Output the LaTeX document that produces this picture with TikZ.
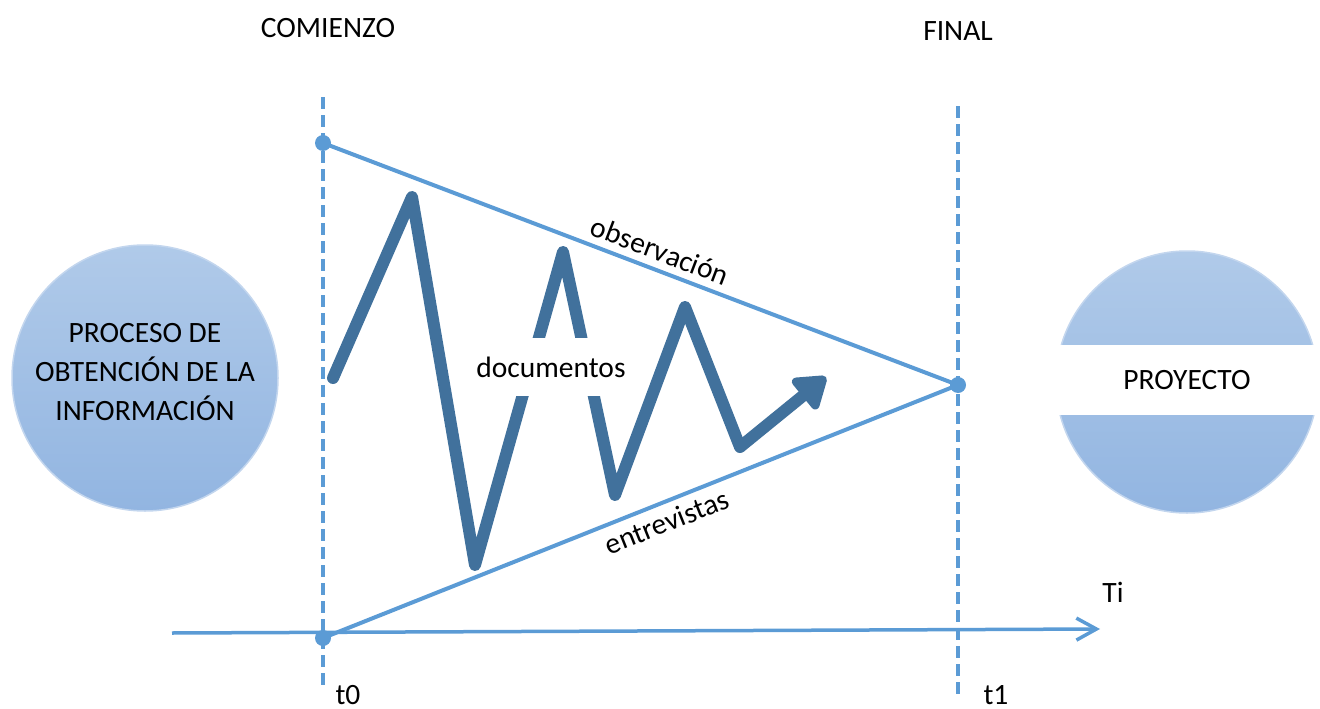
\documentclass[tikz,border=0pt]{standalone}
\usepackage{fontspec}
\setmainfont{Carlito}
\usetikzlibrary{arrows.meta}
\definecolor{lightln}{HTML}{5B9BD5}
\definecolor{darkln}{HTML}{41719C}
\definecolor{circtop}{HTML}{B0CAE9}
\definecolor{circbot}{HTML}{92B5E1}
\definecolor{circedge}{HTML}{C3D6EE}
\tikzset{
  guide/.style={lightln, line width=3.5pt, dash pattern=on 12pt off 6pt},
  thinln/.style={lightln, line width=4pt},
  zig/.style={darkln, line width=12pt, line join=round, line cap=round},
  bubble/.style={circle, draw=circedge, line width=1.5pt, top color=circtop, bottom color=circbot, inner sep=0pt},
  lbl/.style={font=\fontsize{29.5}{39}\selectfont, inner sep=0pt, text=black},
  dot/.style={circle, fill=lightln, minimum size=16pt, inner sep=0pt}
}
\begin{document}
\begin{tikzpicture}[x=1pt, y=-1pt]
\useasboundingbox (0,0) rectangle (1320,709);
% circles
\node[bubble, minimum size=266pt] (left) at (145,378) {};
\node[lbl, align=center] (lefttxt) at (145,372) {PROCESO DE\\OBTENCIÓN DE LA\\INFORMACIÓN};
\node[bubble, minimum size=262pt] (right) at (1187,382) {};
\node[lbl, fill=white, minimum width=266pt, minimum height=70pt] (proj) at (1187,380) {PROYECTO};
% guides
\coordinate (g0t) at (323,97);
\coordinate (g0b) at (323,687);
\coordinate (g1t) at (958,106);
\coordinate (g1b) at (958,695);
\draw[guide] (g0t) -- (g0b);
\draw[guide] (g1t) -- (g1b);
% axis
\coordinate (ax0) at (172,633);
\coordinate (ax1) at (1100,629);
\draw[lightln, line width=3.5pt, -{Straight Barb[length=20pt, width=22pt, line width=3.5pt]}] (ax0) -- (ax1);
% dots
\node[dot] (ptop) at (323,143) {};
\node[dot] (pright) at (958,385) {};
\node[dot] (pbot) at (323,638) {};
\draw[thinln] (ptop.center) -- node[lbl, pos=0.52, above=7pt, sloped] (obs) {observación} (pright.center);
\draw[thinln] (pbot.center) -- node[lbl, pos=0.53, below=7pt, sloped] (ent) {entrevistas} (pright.center);
% zigzag
\coordinate (z1) at (333,378);
\coordinate (z2) at (412,197);
\coordinate (z3) at (475,565);
\coordinate (z4) at (563,252);
\coordinate (z5) at (615,495);
\coordinate (z6) at (685,307);
\coordinate (z7) at (740,447);
\coordinate (z8) at (826,377);
\draw[zig] (z1) -- (z2) -- (z3) -- (z4) -- (z5) -- (z6) -- (z7);
\draw[zig, line cap=butt, -{Triangle[round, length=34pt, width=44pt]}] (z7) -- (z8);
\node[lbl, fill=white, minimum height=58pt, inner xsep=4pt] (doc) at (551,367) {documentos};
% labels
\node[lbl] (com) at (328,28) {COMIENZO};
\node[lbl] (fin) at (958,31) {FINAL};
\node[lbl] (t0) at (348,695) {t0};
\node[lbl] (t1) at (996,695) {t1};
\node[lbl] (ti) at (1113,592) {Ti};
\end{tikzpicture}
\end{document}
